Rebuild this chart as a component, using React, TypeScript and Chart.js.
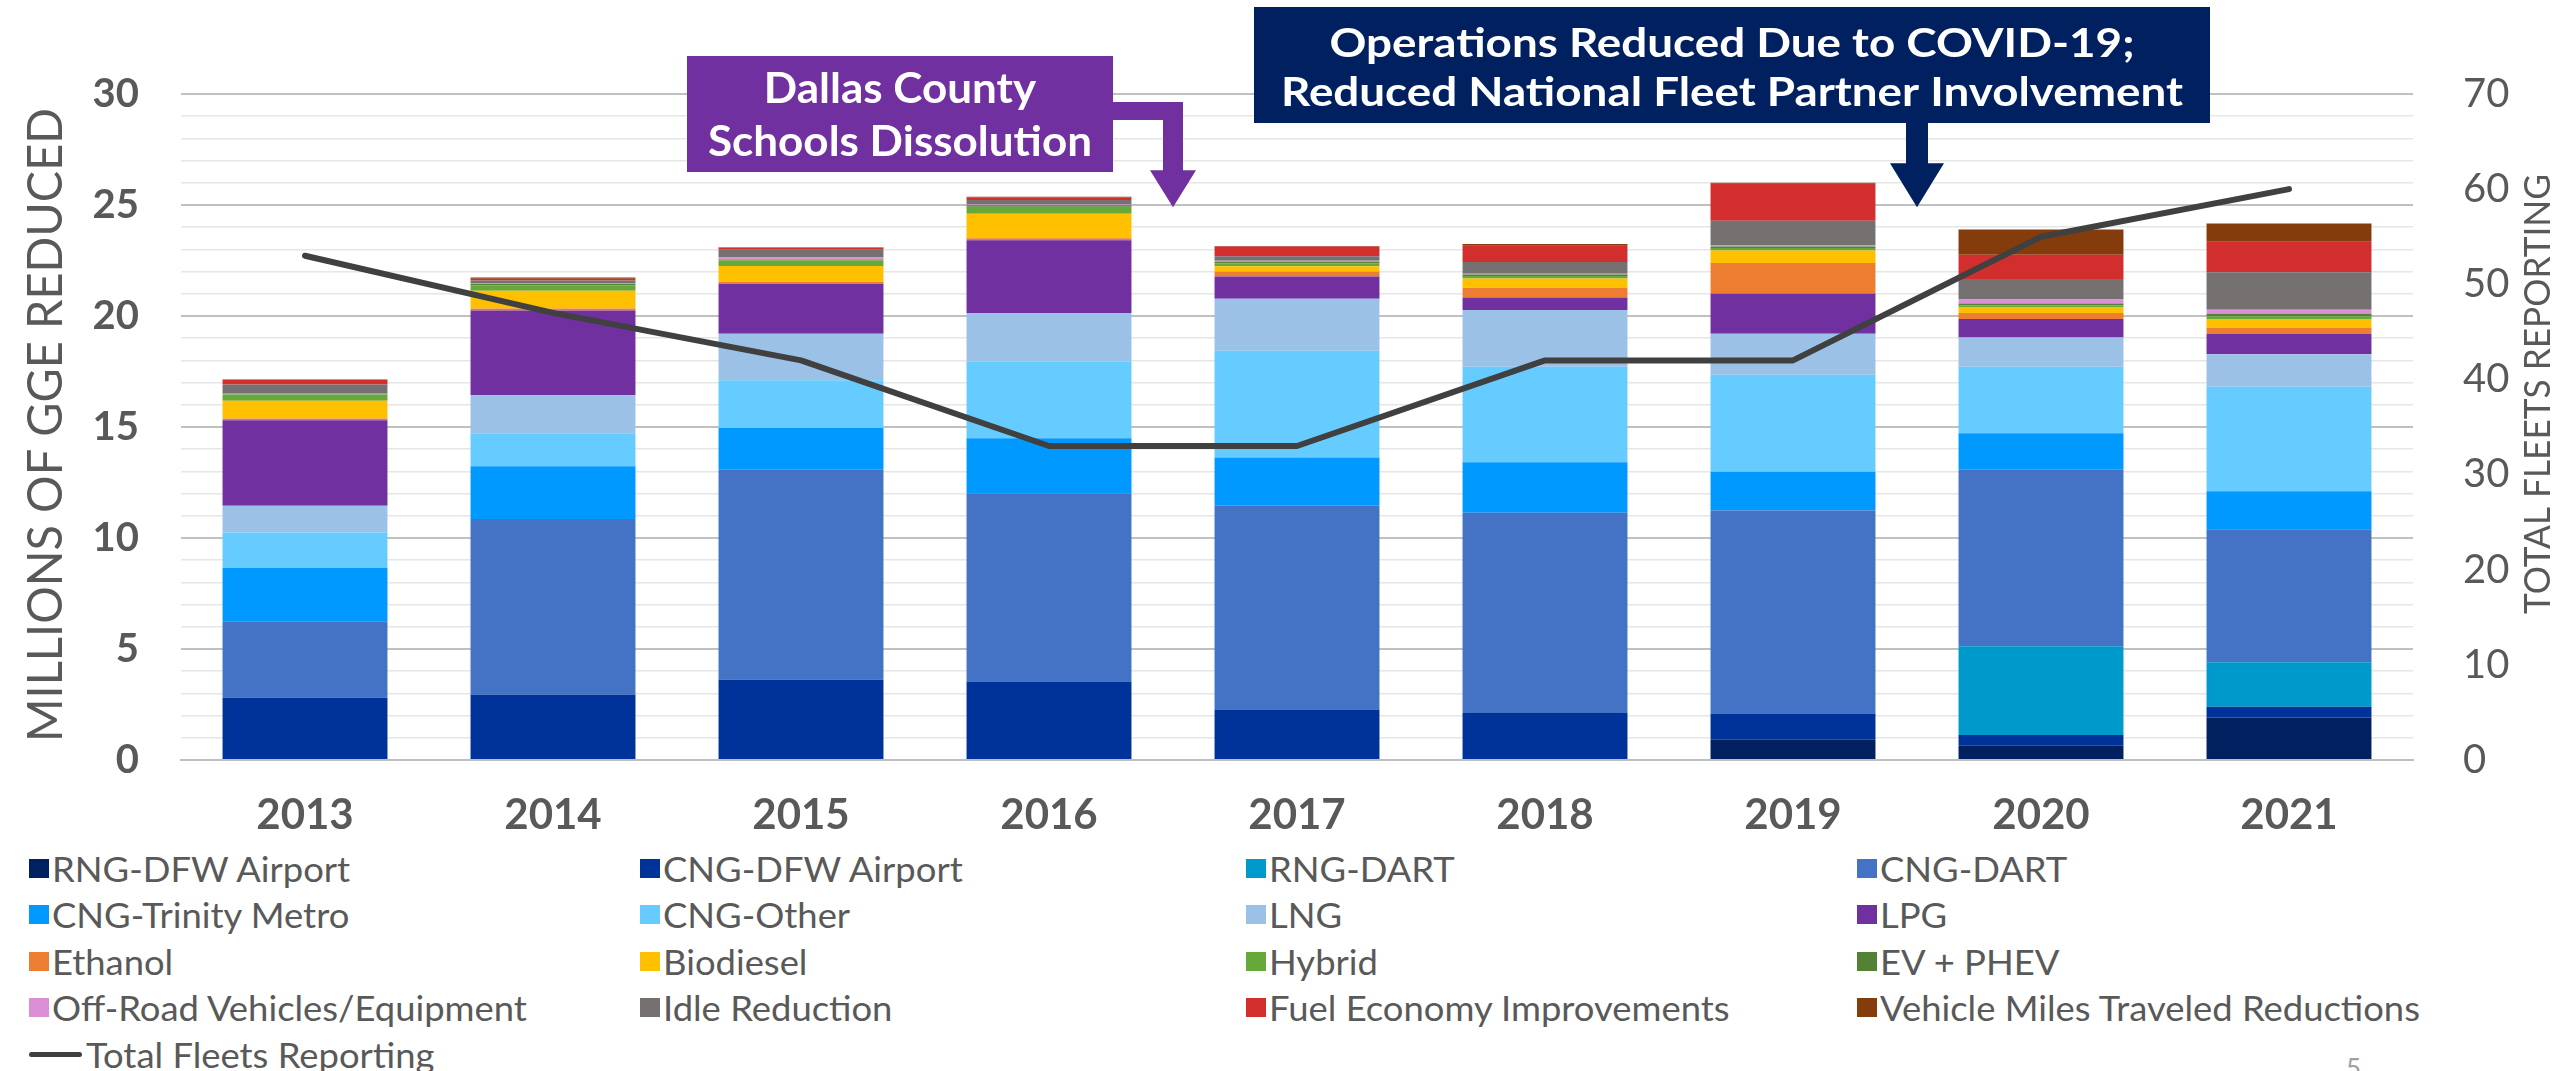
import React, { useEffect, useRef } from 'react';
import { Chart, registerables } from 'chart.js';

Chart.register(...registerables);

// ---------- DATA ----------
const years = ['2013', '2014', '2015', '2016', '2017', '2018', '2019', '2020', '2021'];

const rngDfwAirport = [0, 0, 0, 0, 0, 0, 0.91, 0.64, 1.91];
const cngDfwAirport = [2.8, 2.94, 3.62, 3.54, 2.27, 2.12, 1.18, 0.49, 0.49];
const rngDart = [0, 0, 0, 0, 0, 0, 0, 3.99, 2.0];
const cngDart = [3.45, 7.92, 9.45, 8.48, 9.18, 9.02, 9.15, 7.95, 5.99];
const cngTrinityMetro = [2.4, 2.37, 1.89, 2.47, 2.18, 2.27, 1.74, 1.65, 1.72];
const cngOther = [1.6, 1.49, 2.15, 3.45, 4.81, 4.3, 4.37, 2.99, 4.7];
const lng = [1.2, 1.71, 2.09, 2.2, 2.34, 2.56, 1.85, 1.32, 1.47];
const lpg = [3.85, 3.82, 2.25, 3.27, 1.0, 0.56, 1.81, 0.83, 0.91];
const ethanol = [0.08, 0.09, 0.09, 0.09, 0.22, 0.44, 1.38, 0.27, 0.27];
const biodiesel = [0.8, 0.8, 0.71, 1.11, 0.24, 0.42, 0.56, 0.25, 0.38];
const hybrid = [0.28, 0.24, 0.26, 0.31, 0.13, 0.11, 0.11, 0.09, 0.15];
const evPhev = [0.02, 0.07, 0.03, 0.07, 0.07, 0.07, 0.07, 0.09, 0.11];
const offRoad = [0.02, 0.03, 0.09, 0.03, 0.05, 0.03, 0.07, 0.18, 0.18];
const idleReduction = [0.42, 0.12, 0.35, 0.2, 0.2, 0.53, 1.09, 0.93, 1.69];
const fuelEconomy = [0.2, 0.08, 0.1, 0.13, 0.44, 0.74, 1.67, 1.09, 1.38];
const vmtReductions = [0.02, 0.05, 0.02, 0.02, 0.02, 0.07, 0.04, 1.14, 0.82];

const totalFleetsReporting = [53, 47, 42, 33, 33, 42, 42, 55, 60];

const leftAxisMax = 30;
const rightAxisMax = 70;
const rightAxisStep = 10;

const leftAxisTitle = 'MILLIONS OF GGE REDUCED';
const rightAxisTitle = 'TOTAL FLEETS REPORTING';
const dallasNote = ['Dallas County', 'Schools Dissolution'];
const covidNote = ['Operations Reduced Due to COVID-19;', 'Reduced National Fleet Partner Involvement'];
const arrowTipValue = 24.9;

const barSeries = [
  { label: 'RNG-DFW Airport', data: rngDfwAirport, color: '#002060' },
  { label: 'CNG-DFW Airport', data: cngDfwAirport, color: '#003399' },
  { label: 'RNG-DART', data: rngDart, color: '#0099cc' },
  { label: 'CNG-DART', data: cngDart, color: '#4472c4' },
  { label: 'CNG-Trinity Metro', data: cngTrinityMetro, color: '#0099ff' },
  { label: 'CNG-Other', data: cngOther, color: '#66ccff' },
  { label: 'LNG', data: lng, color: '#9bc2e6' },
  { label: 'LPG', data: lpg, color: '#7030a0' },
  { label: 'Ethanol', data: ethanol, color: '#ed7d31' },
  { label: 'Biodiesel', data: biodiesel, color: '#ffc000' },
  { label: 'Hybrid', data: hybrid, color: '#66a83a' },
  { label: 'EV + PHEV', data: evPhev, color: '#548235' },
  { label: 'Off-Road Vehicles/Equipment', data: offRoad, color: '#da8fd6' },
  { label: 'Idle Reduction', data: idleReduction, color: '#767171' },
  { label: 'Fuel Economy Improvements', data: fuelEconomy, color: '#d32e2e' },
  { label: 'Vehicle Miles Traveled Reductions', data: vmtReductions, color: '#843c0c' },
];
const lineLabel = 'Total Fleets Reporting';
const lineColor = '#404040';

const GRAY = '#595959';

function drawFitted(ctx: any, text: string, cx: number, cy: number, font: string, color: string, target: number, fontSize: number, rotate: boolean) {
  ctx.save();
  ctx.translate(cx, cy);
  if (rotate) ctx.rotate(-Math.PI / 2);
  ctx.font = font;
  const w = ctx.measureText(text).width;
  ctx.scale(target / w, 1);
  ctx.fillStyle = color;
  ctx.textAlign = 'center';
  ctx.textBaseline = 'alphabetic';
  ctx.fillText(text, 0, fontSize * 0.358);
  ctx.restore();
}

function drawNoteText(ctx: any, lines: string[], cx: number, cys: number[], fontSize: number, longestTarget: number) {
  ctx.save();
  const font = `bold ${fontSize}px Lato`;
  ctx.font = font;
  let maxW = 0;
  lines.forEach((l) => { maxW = Math.max(maxW, ctx.measureText(l).width); });
  const sx = longestTarget / maxW;
  ctx.fillStyle = '#ffffff';
  ctx.textAlign = 'center';
  ctx.textBaseline = 'alphabetic';
  lines.forEach((l, i) => {
    ctx.save();
    ctx.translate(cx, cys[i]);
    ctx.scale(sx, 1);
    ctx.fillText(l, 0, fontSize * 0.358);
    ctx.restore();
  });
  ctx.restore();
}

const overlayPlugin = {
  id: 'overlay',
  afterDraw(chart: any) {
    const ctx = chart.ctx;
    const xs = chart.scales.x;
    const ys = chart.scales.y;
    const area = chart.chartArea;

    // axis titles
    drawFitted(ctx, leftAxisTitle, 44.5, (area.top + area.bottom) / 2 - 2, '400 49px Lato', GRAY, 634, 49, true);
    drawFitted(ctx, rightAxisTitle, 2536.5, 394, '400 37px Lato', GRAY, 440, 37, true);

    const boundary = (i: number) => (xs.getPixelForValue(i) + xs.getPixelForValue(i + 1)) / 2;
    const tipY = ys.getPixelForValue(arrowTipValue);

    // Dallas County note
    const purple = '#7030a0';
    const dBox = { l: 687, t: 56, r: 1113, b: 172 };
    ctx.save();
    ctx.fillStyle = purple;
    ctx.fillRect(dBox.l, dBox.t, dBox.r - dBox.l, dBox.b - dBox.t);
    const dx = boundary(3);
    ctx.beginPath();
    ctx.moveTo(dBox.r - 1, 102);
    ctx.lineTo(dx + 10, 102);
    ctx.lineTo(dx + 10, tipY - 37);
    ctx.lineTo(dx + 23, tipY - 37);
    ctx.lineTo(dx, tipY);
    ctx.lineTo(dx - 23, tipY - 37);
    ctx.lineTo(dx - 10, tipY - 37);
    ctx.lineTo(dx - 10, 120);
    ctx.lineTo(dBox.r - 1, 120);
    ctx.closePath();
    ctx.fill();
    ctx.restore();
    drawNoteText(ctx, dallasNote, (dBox.l + dBox.r) / 2, [88, 141], 42, 384);

    // COVID note
    const navy = '#002060';
    const cBox = { l: 1254, t: 7, r: 2210, b: 123 };
    ctx.save();
    ctx.fillStyle = navy;
    ctx.fillRect(cBox.l, cBox.t, cBox.r - cBox.l, cBox.b - cBox.t);
    const cx = boundary(6);
    ctx.beginPath();
    ctx.moveTo(cx - 11, cBox.b - 1);
    ctx.lineTo(cx + 11, cBox.b - 1);
    ctx.lineTo(cx + 11, tipY - 44);
    ctx.lineTo(cx + 27, tipY - 44);
    ctx.lineTo(cx, tipY);
    ctx.lineTo(cx - 27, tipY - 44);
    ctx.lineTo(cx - 11, tipY - 44);
    ctx.closePath();
    ctx.fill();
    ctx.restore();
    drawNoteText(ctx, covidNote, (cBox.l + cBox.r) / 2, [42.5, 92], 40, 902);
  },
};

export default function App() {
  const canvasRef = useRef<HTMLCanvasElement | null>(null);

  useEffect(() => {
    const canvas = canvasRef.current;
    if (!canvas) return;
    const datasets: any[] = barSeries.map((s) => ({
      type: 'bar',
      label: s.label,
      data: s.data,
      backgroundColor: s.color,
      borderWidth: 0,
      yAxisID: 'y',
      order: 1,
      barPercentage: 0.665,
      categoryPercentage: 1,
    }));
    datasets.push({
      type: 'line',
      label: lineLabel,
      data: totalFleetsReporting,
      borderColor: lineColor,
      backgroundColor: lineColor,
      borderWidth: 6,
      pointRadius: 0,
      tension: 0,
      yAxisID: 'y1',
      order: 0,
      borderCapStyle: 'round',
      borderJoinStyle: 'round',
    });

    const chart = new Chart(canvas, {
      type: 'bar',
      data: { labels: years, datasets },
      options: {
        responsive: false,
        devicePixelRatio: 1,
        animation: false,
        layout: { padding: { top: 94, left: 0, right: 0, bottom: 0 } },
        plugins: { legend: { display: false }, tooltip: { enabled: false } },
        scales: {
          x: {
            stacked: true,
            grid: { display: false, drawTicks: false },
            border: { display: true, color: '#bfbfbf', width: 2 },
            ticks: { color: GRAY, font: { family: 'Lato', size: 42, weight: 'bold' }, padding: 30 },
            afterFit: (s: any) => { s.height = 80; },
          },
          y: {
            position: 'left',
            stacked: true,
            min: 0,
            max: leftAxisMax,
            ticks: {
              stepSize: 1,
              autoSkip: false,
              padding: 42,
              color: GRAY,
              font: { family: 'Lato', size: 40, weight: 'bold' },
              callback: (v: any) => (Number(v) % 5 === 0 ? String(v) : ''),
            },
            grid: {
              drawTicks: false,
              color: (c: any) => (c.tick && c.tick.value % 5 === 0 ? '#c0c0c0' : '#e6e6e6'),
              lineWidth: (c: any) => (c.tick && c.tick.value % 5 === 0 ? 2 : 1.5),
            },
            border: { display: false },
            afterFit: (s: any) => { s.width = 181; },
          },
          y1: {
            position: 'right',
            stacked: false,
            min: 0,
            max: rightAxisMax,
            ticks: { stepSize: rightAxisStep, padding: 50, color: GRAY, font: { family: 'Lato', size: 40 } },
            grid: { display: false, drawTicks: false },
            border: { display: false },
            afterFit: (s: any) => { s.width = 141; },
          },
        },
      } as any,
      plugins: [overlayPlugin],
    });
    return () => chart.destroy();
  }, []);

  const cols = [29, 640, 1246, 1857];
  const legendItems = [
    ...barSeries.map((s) => ({ label: s.label, color: s.color, line: false })),
    { label: lineLabel, color: lineColor, line: true },
  ];

  return (
    <div style={{ position: 'fixed', left: 0, top: 0, width: 2554, height: 1071, background: '#ffffff', overflow: 'hidden' }}>
      <canvas ref={canvasRef} width={2554} height={840} style={{ position: 'absolute', left: 0, top: 0, width: 2554, height: 840 }} />
      {legendItems.map((it, i) => {
        const col = i % 4;
        const row = Math.floor(i / 4);
        const cy = 868 + row * 46.5;
        return (
          <div
            key={it.label}
            style={{
              position: 'absolute',
              left: cols[col],
              top: cy - 23,
              height: 46,
              display: 'flex',
              alignItems: 'center',
              whiteSpace: 'nowrap',
              fontFamily: 'Lato',
              fontSize: 35,
              lineHeight: 1,
              color: GRAY,
            }}
          >
            <span
              style={{
                display: 'inline-block',
                width: it.line ? 53 : 20,
                height: it.line ? 5 : 19,
                borderRadius: it.line ? 3 : 0,
                background: it.color,
                marginRight: it.line ? 4 : 3,
                flex: 'none',
              }}
            />
            <span style={{ display: 'inline-block', transform: 'scaleX(1.04)', transformOrigin: 'left center' }}>{it.label}</span>
          </div>
        );
      })}
      <div style={{ position: 'absolute', left: 2346, top: 1055, fontFamily: 'Lato', fontSize: 26, color: '#a0a0a0', lineHeight: 1 }}>5</div>
    </div>
  );
}
